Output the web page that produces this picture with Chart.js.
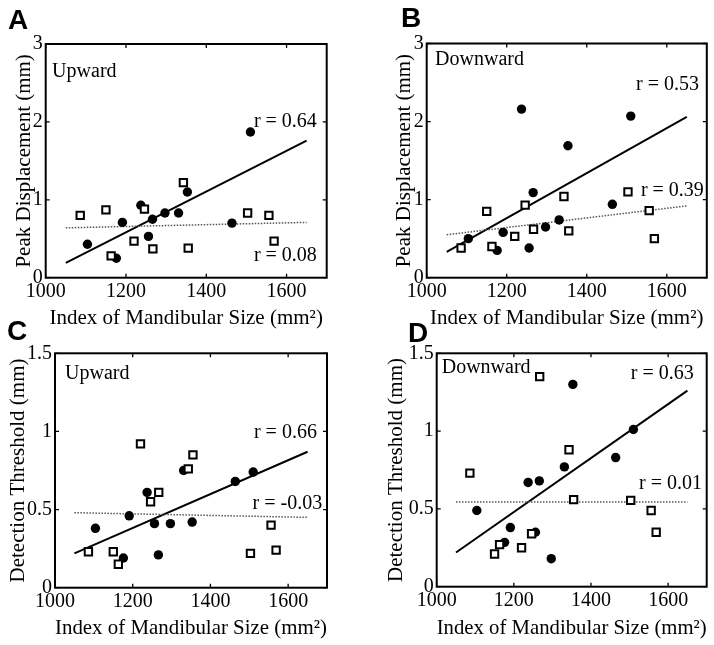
<!DOCTYPE html>
<html>
<head>
<meta charset="utf-8">
<script src="https://cdn.jsdelivr.net/npm/chart.js@4.4.1/dist/chart.umd.min.js"></script>
<style>
  html, body { margin: 0; padding: 0; background: #fff; }
  #wrap { position: relative; width: 714px; height: 645px; }
  #wrap canvas { position: absolute; left: 0; top: 0; }
</style>
</head>
<body>
<div id="wrap">
  <canvas id="chartA" width="714" height="645"></canvas>
  <canvas id="chartB" width="714" height="645"></canvas>
  <canvas id="chartC" width="714" height="645"></canvas>
  <canvas id="chartD" width="714" height="645"></canvas>
</div>
<script>
// tick labels
const xTicks = [1000, 1200, 1400, 1600];
const dispTicks = [0, 1, 2, 3];
const threshTicks = [0, 0.5, 1, 1.5];

// index of mandibular size (mm^2) for the two groups
const sizeFilled = [1104, 1176, 1191, 1237, 1256, 1266, 1297, 1331, 1353, 1464, 1510];
const sizeOpen = [1086, 1150, 1163, 1220, 1246, 1267, 1343, 1355, 1503, 1556, 1569];

// A - peak displacement, upward
const dispUpFilled = [0.43, 0.25, 0.71, 0.93, 0.53, 0.75, 0.83, 0.83, 1.10, 0.70, 1.87];
const dispUpOpen = [0.80, 0.87, 0.28, 0.47, 0.88, 0.37, 1.22, 0.38, 0.83, 0.80, 0.47];
// B - peak displacement, downward
const dispDownFilled = [0.50, 0.35, 0.58, 2.16, 0.38, 1.09, 0.65, 0.74, 1.69, 0.94, 2.07];
const dispDownOpen = [0.38, 0.85, 0.40, 0.53, 0.93, 0.62, 1.04, 0.60, 1.10, 0.86, 0.50];
// C - detection threshold, upward
const threshUpFilled = [0.38, 0.19, 0.46, 0.61, 0.41, 0.21, 0.41, 0.75, 0.42, 0.68, 0.74];
const threshUpOpen = [0.23, 0.23, 0.15, 0.92, 0.55, 0.61, 0.76, 0.85, 0.22, 0.40, 0.24];
// D - detection threshold, downward
const threshDownFilled = [0.49, 0.285, 0.38, 0.67, 0.35, 0.68, 0.18, 0.77, 1.30, 0.83, 1.01];
const threshDownOpen = [0.73, 0.21, 0.27, 0.25, 0.34, 1.35, 0.88, 0.56, 0.555, 0.49, 0.35];

// regression lines (ends at x = 1050 and 1650)
const fitX = [1050, 1650];
const fitDispUpFilled = [0.19, 1.76];
const fitDispUpOpen = [0.64, 0.71];
const fitDispDownFilled = [0.33, 2.06];
const fitDispDownOpen = [0.55, 0.92];
const fitThreshUpFilled = [0.22, 0.87];
const fitThreshUpOpen = [0.48, 0.45];
const fitThreshDownFilled = [0.22, 1.26];
const fitThreshDownOpen = [0.545, 0.545];

const serif = 'Liberation Serif';
const toPts = (xs, ys) => xs.map((x, i) => ({x: x, y: ys[i]}));

// box, inward ticks, notes and panel letter
const framePlugin = {
  id: 'frame',
  afterDraw(chart, args, opts) {
    const ctx = chart.ctx;
    const a = chart.chartArea;
    const sx = chart.scales.x, sy = chart.scales.y;
    ctx.save();
    ctx.strokeStyle = '#000';
    ctx.lineWidth = 1.3;
    ctx.beginPath();
    sx.ticks.forEach(t => {
      const px = sx.getPixelForValue(t.value);
      ctx.moveTo(px, a.bottom); ctx.lineTo(px, a.bottom - 4);
      ctx.moveTo(px, a.top); ctx.lineTo(px, a.top + 4);
    });
    sy.ticks.forEach(t => {
      const py = sy.getPixelForValue(t.value);
      ctx.moveTo(a.left, py); ctx.lineTo(a.left + 4, py);
      ctx.moveTo(a.right, py); ctx.lineTo(a.right - 4, py);
    });
    ctx.stroke();
    ctx.lineWidth = 2;
    ctx.strokeRect(a.left, a.top, a.right - a.left, a.bottom - a.top);

    ctx.fillStyle = '#000';
    ctx.font = '20px "' + serif + '"';
    ctx.textBaseline = 'middle';
    opts.notes.forEach(n => {
      ctx.textAlign = n.align;
      ctx.fillText(n.text, sx.getPixelForValue(n.x), sy.getPixelForValue(n.y));
    });

    ctx.font = 'bold 28px "Liberation Sans"';
    ctx.textAlign = 'left';
    ctx.textBaseline = 'alphabetic';
    ctx.fillText(opts.letter, opts.letterX, opts.letterY);
    ctx.restore();
  }
};

function makePanel(p) {
  const padLeft = p.yTitleX - 12.6;
  new Chart(document.getElementById(p.id), {
    type: 'scatter',
    data: {
      datasets: [
        {
          data: toPts(fitX, p.fitFilled), showLine: true,
          borderColor: '#000', borderWidth: 2, pointRadius: 0, order: 4
        },
        {
          data: toPts(fitX, p.fitOpen), showLine: true,
          borderColor: '#555', borderWidth: 1.5, borderDash: [1.5, 1.5], pointRadius: 0, order: 3
        },
        {
          data: toPts(sizeFilled, p.filled),
          pointStyle: 'circle', pointRadius: 4.7,
          backgroundColor: '#000', borderColor: '#000', borderWidth: 0, order: 2
        },
        {
          data: toPts(sizeOpen, p.open),
          pointStyle: 'rect', pointRadius: 5.2,
          backgroundColor: '#fff', borderColor: '#000', borderWidth: 2, order: 1
        }
      ]
    },
    options: {
      responsive: false,
      animation: false,
      events: [],
      devicePixelRatio: 1,
      layout: {
        padding: {
          left: padLeft,
          top: p.area.t,
          right: 714 - p.area.r,
          bottom: 645 - p.area.b - p.xAxisH
        }
      },
      plugins: {
        legend: { display: false },
        tooltip: { enabled: false },
        frame: { notes: p.notes, letter: p.letter, letterX: p.letterX, letterY: p.letterY }
      },
      scales: {
        x: {
          type: 'linear', position: 'bottom', min: 1000, max: 1700,
          afterBuildTicks: s => { s.ticks = xTicks.map(v => ({value: v})); },
          afterFit: s => { s.height = p.xAxisH; },
          grid: { display: false, drawTicks: false },
          border: { display: false },
          ticks: { color: '#000', font: { family: serif, size: 20 }, padding: 2, maxRotation: 0, callback: v => String(v) },
          title: {
            display: true, text: 'Index of Mandibular Size (mm²)', color: '#000',
            font: { family: serif, size: 21 }, padding: 0
          }
        },
        y: {
          type: 'linear', position: 'left', min: 0, max: p.yTicks[p.yTicks.length - 1],
          afterBuildTicks: s => { s.ticks = p.yTicks.map(v => ({value: v})); },
          afterFit: s => { s.width = p.area.l - padLeft; },
          grid: { display: false, drawTicks: false },
          border: { display: false },
          ticks: { color: '#000', font: { family: serif, size: 20 }, padding: 3, callback: v => String(v) },
          title: {
            display: true, text: p.yTitle, color: '#000',
            font: { family: serif, size: 21 }, padding: 0
          }
        }
      }
    },
    plugins: [framePlugin]
  });
}

makePanel({
  id: 'chartA', letter: 'A', letterX: 8, letterY: 29,
  yTitle: 'Peak Displacement (mm)', yTicks: dispTicks,
  filled: dispUpFilled, open: dispUpOpen, fitFilled: fitDispUpFilled, fitOpen: fitDispUpOpen,
  area: { l: 45.7, t: 44, r: 326.7, b: 277.7 }, yTitleX: 24.4, xAxisH: 52.9,
  notes: [
    { text: 'Upward', x: 1016, y: 2.64, align: 'left' },
    { text: 'r = 0.64', x: 1597, y: 2.0, align: 'center' },
    { text: 'r = 0.08', x: 1597, y: 0.28, align: 'center' }
  ]
});

makePanel({
  id: 'chartB', letter: 'B', letterX: 401, letterY: 27,
  yTitle: 'Peak Displacement (mm)', yTicks: dispTicks,
  filled: dispDownFilled, open: dispDownOpen, fitFilled: fitDispDownFilled, fitOpen: fitDispDownOpen,
  area: { l: 426.7, t: 43.5, r: 707, b: 277.7 }, yTitleX: 404, xAxisH: 52.9,
  notes: [
    { text: 'Downward', x: 1021, y: 2.79, align: 'left' },
    { text: 'r = 0.53', x: 1602, y: 2.47, align: 'center' },
    { text: 'r = 0.39', x: 1614, y: 1.12, align: 'center' }
  ]
});

makePanel({
  id: 'chartC', letter: 'C', letterX: 7, letterY: 340,
  yTitle: 'Detection Threshold (mm)', yTicks: threshTicks,
  filled: threshUpFilled, open: threshUpOpen, fitFilled: fitThreshUpFilled, fitOpen: fitThreshUpOpen,
  area: { l: 55, t: 353.3, r: 327, b: 587.7 }, yTitleX: 18, xAxisH: 52.9,
  notes: [
    { text: 'Upward', x: 1026, y: 1.37, align: 'left' },
    { text: 'r = 0.66', x: 1593, y: 0.99, align: 'center' },
    { text: 'r = -0.03', x: 1598, y: 0.54, align: 'center' }
  ]
});

makePanel({
  id: 'chartD', letter: 'D', letterX: 408, letterY: 342,
  yTitle: 'Detection Threshold (mm)', yTicks: threshTicks,
  filled: threshDownFilled, open: threshDownOpen, fitFilled: fitThreshDownFilled, fitOpen: fitThreshDownOpen,
  area: { l: 436.7, t: 353.3, r: 706.7, b: 586.7 }, yTitleX: 396, xAxisH: 53.9,
  notes: [
    { text: 'Downward', x: 1013, y: 1.41, align: 'left' },
    { text: 'r = 0.63', x: 1585, y: 1.37, align: 'center' },
    { text: 'r = 0.01', x: 1606, y: 0.66, align: 'center' }
  ]
});
</script>
</body>
</html>
